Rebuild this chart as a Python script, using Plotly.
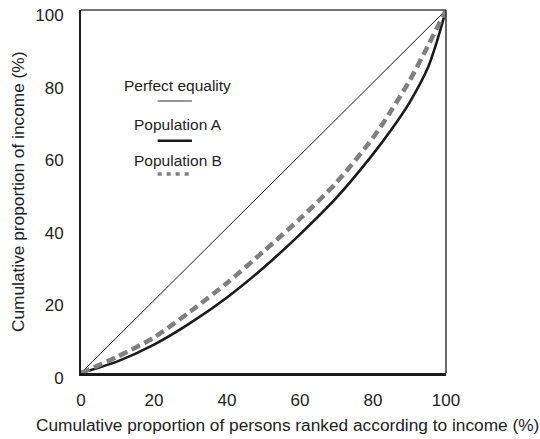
import plotly.graph_objects as go

# Cumulative share of persons (x) and of income (y), in percent
persons = [0, 10, 20, 30, 40, 50, 60, 70, 80, 85, 90, 95, 97.5, 100]
equality = [0, 10, 20, 30, 40, 50, 60, 70, 80, 85, 90, 95, 97.5, 100]
population_a = [0, 3.2, 7.8, 13.8, 20.8, 29.0, 38.2, 48.3, 60.3, 67.0, 74.5, 84.0, 91.3, 100]
population_b = [0, 4.5, 9.8, 17.0, 24.8, 33.5, 42.5, 52.5, 64.8, 72.3, 80.5, 90.0, 95.0, 100]

tick_values = [0, 20, 40, 60, 80, 100]
tick_labels = ["0", "20", "40", "60", "80", "100"]

FONT = "Liberation Sans, Arial, sans-serif"
TEXT = "#222222"

fig = go.Figure()

fig.add_trace(go.Scatter(
    x=persons, y=equality, mode="lines", name="Perfect equality",
    line=dict(color="#1a1a1a", width=1), cliponaxis=False,
))
fig.add_trace(go.Scatter(
    x=persons, y=population_a, mode="lines", name="Population A",
    line=dict(color="#1a1a1a", width=2.6, shape="spline", smoothing=0.8),
    cliponaxis=False,
))
fig.add_trace(go.Scatter(
    x=persons, y=population_b, mode="lines", name="Population B",
    line=dict(color="#7f7f7f", width=4.5, dash="9px,5px", shape="spline", smoothing=0.8),
    cliponaxis=False,
))

# In-plot key: labels with line samples below
key_items = [
    ("Perfect equality", 79.3, 74.9, dict(color="#777777", width=1.5)),
    ("Population A", 68.4, 64.0, dict(color="#1a1a1a", width=2.5)),
    ("Population B", 58.6, 54.8, dict(color="#7f7f7f", width=3.5, dash="4px,5px")),
]
shapes = []
annotations = []
for label, ty, ly, ln in key_items:
    annotations.append(dict(
        x=26.5, y=ty, xref="x", yref="y", text=label, showarrow=False,
        font=dict(family=FONT, size=15.5, color=TEXT), xanchor="center", yanchor="middle",
    ))
    shapes.append(dict(type="line", xref="x", yref="y", x0=21.0, x1=30.4, y0=ly, y1=ly, line=ln))

# Top and right frame lines
shapes.append(dict(type="line", xref="paper", yref="paper", x0=0, x1=1, y0=1, y1=1,
                   line=dict(color="#444444", width=1.5)))
shapes.append(dict(type="line", xref="paper", yref="paper", x0=1, x1=1, y0=0, y1=1,
                   line=dict(color="#333333", width=1.5)))

# Axis titles
annotations.append(dict(
    x=(287 - 81) / 365, y=-(426 - 373) / 367, xref="paper", yref="paper",
    text="Cumulative proportion of persons ranked according to income (%)",
    showarrow=False, font=dict(family=FONT, size=17.3, color=TEXT),
    xanchor="center", yanchor="middle",
))
annotations.append(dict(
    x=-(81 - 18) / 365, y=(373 - 190) / 367, xref="paper", yref="paper",
    text="Cumulative proportion of income (%)", textangle=-90,
    showarrow=False, font=dict(family=FONT, size=17.3, color=TEXT),
    xanchor="center", yanchor="middle",
))

fig.update_layout(
    width=540, height=439,
    margin=dict(l=81, r=94, t=6, b=66),
    paper_bgcolor="white", plot_bgcolor="white",
    showlegend=False,
    shapes=shapes, annotations=annotations,
    font=dict(family=FONT, size=17, color=TEXT),
)
fig.update_xaxes(
    range=[0, 100], tickvals=tick_values, ticktext=tick_labels,
    showgrid=False, zeroline=False, showline=True, linecolor="#1a1a1a", linewidth=2.5,
    ticks="", ticklabelstandoff=10, tickfont=dict(family=FONT, size=17, color=TEXT),
)
fig.update_yaxes(
    range=[0, 100], tickvals=tick_values, ticktext=tick_labels,
    showgrid=False, zeroline=False, showline=True, linecolor="#1a1a1a", linewidth=2,
    ticks="", ticklabelstandoff=12, ticklabelshift=5, ticklabeloverflow="allow",
    tickfont=dict(family=FONT, size=17, color=TEXT),
)

fig.write_html("out.html")
